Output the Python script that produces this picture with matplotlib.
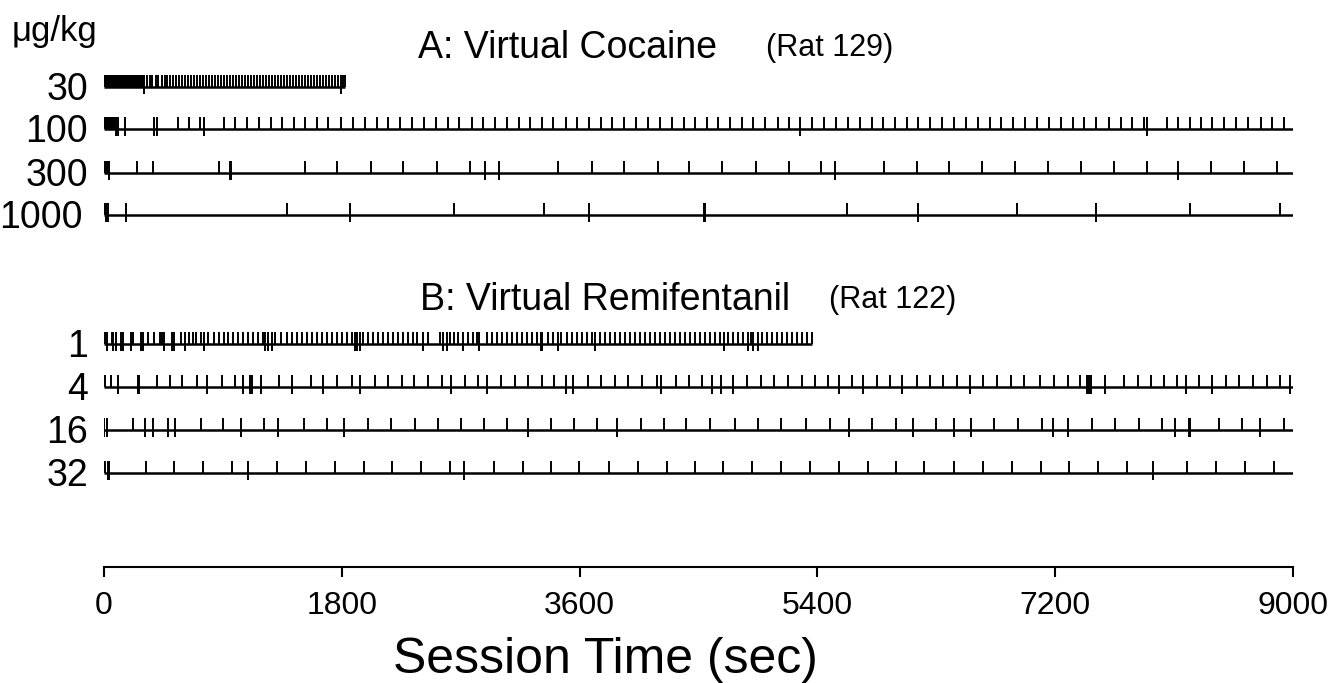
import matplotlib.pyplot as plt

plt.rcParams['font.family'] = ['Liberation Sans', 'DejaVu Sans']

# ---- dados (tempos em segundos) ----
rotulos_a = ["30", "100", "300", "1000"]
rotulos_b = ["1", "4", "16", "32"]

# A: Virtual Cocaine (Rat 129)
a30_bloco = (0, 305)
a30_fim = 1824
a30_longos = [305, 1794]
a30_curtos = [322, 345, 367, 390, 412, 436, 458, 480, 503, 526, 548, 571, 594, 616,
              638, 661, 684, 706, 729, 752, 774, 797, 820, 842, 865, 887, 910, 933,
              956, 978, 1000, 1023, 1046, 1068, 1091, 1114, 1136, 1159, 1182, 1204,
              1227, 1249, 1272, 1295, 1317, 1340, 1362, 1385, 1408, 1430, 1453, 1476,
              1498, 1521, 1544, 1566, 1589, 1612, 1634, 1657, 1680, 1702, 1725, 1748,
              1770, 1808, 1824]

a100_bloco = (0, 88)
a100_fim = 9000
a100_longos = [88, 104, 159, 381, 399, 757, 5271, 7892]
a100_curtos = [558, 643, 729, 908, 992, 1085, 1171, 1262, 1347, 1438, 1524, 1610, 1698,
               1796, 1882, 1976, 2066, 2152, 2240, 2329, 2420, 2515, 2601, 2687, 2783,
               2869, 2957, 3048, 3139, 3222, 3313, 3401, 3494, 3583, 3671, 3759, 3848,
               3938, 4029, 4120, 4208, 4297, 4388, 4473, 4562, 4650, 4741, 4829, 4915,
               5006, 5099, 5185, 5361, 5452, 5543, 5629, 5720, 5810, 5899, 5987, 6075,
               6164, 6255, 6343, 6434, 6522, 6613, 6706, 6789, 6883, 6971, 7064, 7153,
               7244, 7334, 7420, 7511, 7607, 7698, 7778, 7872, 8043, 8132, 8220, 8301,
               8389, 8480, 8566, 8661, 8755, 8843, 8931]

a300_bloco = (0, 38)
a300_fim = 9000
a300_longos = [38, 955, 965, 2886, 2992, 5533, 8127]
a300_curtos = [252, 374, 870, 1521, 1766, 2021, 2266, 2520, 2770, 3439, 3696, 3936,
               4191, 4430, 4680, 4932, 5187, 5427, 5901, 6154, 6396, 6648, 6895, 7143,
               7395, 7642, 7897, 8379, 8631, 8881]

a1000_bloco = None
a1000_fim = 9000
a1000_longos = [18, 28, 164, 1862, 3671, 4539, 4546, 6159, 7508]
a1000_curtos = [5, 1383, 2649, 3328, 5624, 6913, 8220, 8901]

# B: Virtual Remifentanil (Rat 122)
b1_fim = 5360
b1_longos = [25, 71, 88, 126, 146, 204, 278, 293, 454, 517, 532, 613, 754, 1219, 1244,
             1269, 1900, 1918, 1938, 2417, 2568, 2594, 2720, 2838, 3308, 3318, 3439,
             3716, 4695, 4877, 4915, 4953]
b1_curtos = [8, 63, 222, 331, 381, 424, 437, 583, 646, 671, 696, 734, 790, 830, 868, 906,
             941, 974, 1012, 1050, 1088, 1125, 1163, 1201, 1294, 1340, 1383, 1420, 1458,
             1496, 1534, 1572, 1610, 1648, 1685, 1723, 1761, 1799, 1837, 1875, 1963,
             2001, 2039, 2076, 2114, 2152, 2190, 2228, 2266, 2304, 2341, 2367, 2455,
             2543, 2619, 2652, 2682, 2758, 2795, 2821, 2896, 2934, 2972, 3010, 3048,
             3086, 3123, 3161, 3199, 3237, 3275, 3363, 3401, 3459, 3502, 3540, 3578,
             3615, 3653, 3691, 3754, 3792, 3830, 3868, 3906, 3943, 3981, 4019, 4057,
             4095, 4133, 4171, 4208, 4246, 4284, 4322, 4360, 4398, 4435, 4473, 4511,
             4549, 4587, 4625, 4662, 4721, 4763, 4801, 4839, 4897, 4978, 5016, 5054,
             5091, 5129, 5167, 5205, 5243, 5281, 5319, 5356]

b4_fim = 9000
b4_longos = [103, 255, 268, 782, 1050, 1105, 1118, 1186, 1426, 1660, 1938, 2626, 2899,
             3494, 3552, 4213, 4599, 4670, 4758, 5563, 5742, 6043, 6555, 7443, 7458,
             7471, 7577, 8187, 8389, 8977]
b4_curtos = [5, 53, 399, 500, 593, 702, 891, 992, 1325, 1567, 1761, 1875, 2051, 2152,
             2253, 2349, 2450, 2556, 2732, 2833, 3005, 3111, 3212, 3313, 3409, 3661,
             3762, 3868, 3964, 4075, 4183, 4330, 4428, 4524, 4864, 4970, 5074, 5180,
             5281, 5382, 5482, 5664, 5848, 5949, 6151, 6252, 6353, 6454, 6656, 6757,
             6865, 6966, 7085, 7193, 7294, 7387, 7723, 7824, 7922, 8023, 8119, 8288,
             8490, 8593, 8699, 8800, 8901]

b16_fim = 9000
b16_longos = [3, 20, 310, 373, 482, 537, 1034, 1320, 1816, 3207, 3880, 5639, 6121, 6436,
              6560, 7186, 7299, 8106, 8210, 8220, 8750]
b16_curtos = [222, 734, 903, 1214, 1514, 1690, 1996, 2170, 2354, 2526, 2700, 2876, 3053,
              3381, 3560, 3734, 4062, 4239, 4408, 4587, 4776, 4948, 5124, 5311, 5493,
              5816, 5995, 6297, 6736, 6921, 7097, 7476, 7652, 7834, 8011, 8439, 8616,
              8934]

b32_fim = 9000
b32_longos = [28, 40, 1087, 2727, 7937]
b32_curtos = [2, 8, 315, 532, 747, 971, 1312, 1529, 1749, 1968, 2177, 2399, 2619, 2952,
              3174, 3383, 3598, 3822, 4039, 4259, 4473, 4683, 4907, 5124, 5344, 5563,
              5780, 5992, 6209, 6436, 6656, 6875, 7090, 7307, 7526, 7746, 8195, 8414,
              8636, 8858]

eixo_x = [0, 1800, 3600, 5400, 7200, 9000]

# ---- layout (y em pixels acima do eixo) ----
W, H = 1329, 683
y_eixo = 567
def py(pix):
    return y_eixo - pix

def px(pix):
    # pixel horizontal -> segundos
    return (pix - 104) * 9000 / 1189

# (rotulo, linha y, borda direita do rotulo, curtos, longos, bloco, fim)
linhas = [
    ("30", py(87), 88, a30_curtos, a30_longos, a30_bloco, a30_fim),
    ("100", py(129), 88, a100_curtos, a100_longos, a100_bloco, a100_fim),
    ("300", py(173), 88, a300_curtos, a300_longos, a300_bloco, a300_fim),
    ("1000", py(215), 83, a1000_curtos, a1000_longos, a1000_bloco, a1000_fim),
    ("1", py(344), 88, b1_curtos, b1_longos, None, b1_fim),
    ("4", py(387), 88, b4_curtos, b4_longos, None, b4_fim),
    ("16", py(430), 88, b16_curtos, b16_longos, None, b16_fim),
    ("32", py(473), 88, b32_curtos, b32_longos, None, b32_fim),
]

sobe = 12
desce = 7

fig = plt.figure(figsize=(W / 100, H / 100), dpi=100)
ax = fig.add_axes([104 / W, (H - y_eixo) / H, (1293 - 104) / W, (y_eixo - 5) / H])
ax.set_xlim(0, 9000)
ax.set_ylim(0, y_eixo - 5)

for rotulo, y0, borda, curtos, longos, bloco, fim in linhas:
    ax.hlines(y0, 0, fim, color='black', lw=1.8)
    ax.vlines(curtos, y0, y0 + sobe, color='black', lw=1.4)
    ax.vlines(longos, y0 - desce, y0 + sobe, color='black', lw=1.4)
    if bloco is not None:
        ax.broken_barh([(bloco[0], bloco[1] - bloco[0])], (y0, sobe), facecolor='black')
    ax.text(px(borda), y0 - 3, rotulo, ha='right', va='center', fontsize=27, clip_on=False)

ax.text(px(12), py(31), "\u03bcg/kg", ha='left', va='center', fontsize=25, clip_on=False)

ax.text(px(568), py(48), "A: Virtual Cocaine", ha='center', va='center', fontsize=27)
ax.text(px(830), py(48), "(Rat 129)", ha='center', va='center', fontsize=22)
ax.text(px(605), py(300), "B: Virtual Remifentanil", ha='center', va='center', fontsize=27)
ax.text(px(893), py(300), "(Rat 122)", ha='center', va='center', fontsize=22)

for lado in ['top', 'right', 'left']:
    ax.spines[lado].set_visible(False)
ax.spines['bottom'].set_linewidth(1.5)
ax.set_yticks([])
ax.set_xticks(eixo_x)
ax.set_xticklabels([str(v) for v in eixo_x], fontsize=23)
ax.tick_params(axis='x', direction='out', length=7, width=1.5, pad=10)

# titulo do eixo x (deslocado para a esquerda como no original)
fig.text(605 / W, 1 - 660 / H, "Session Time (sec)", ha='center', va='center', fontsize=36)

fig.savefig("out.png", dpi=100)
